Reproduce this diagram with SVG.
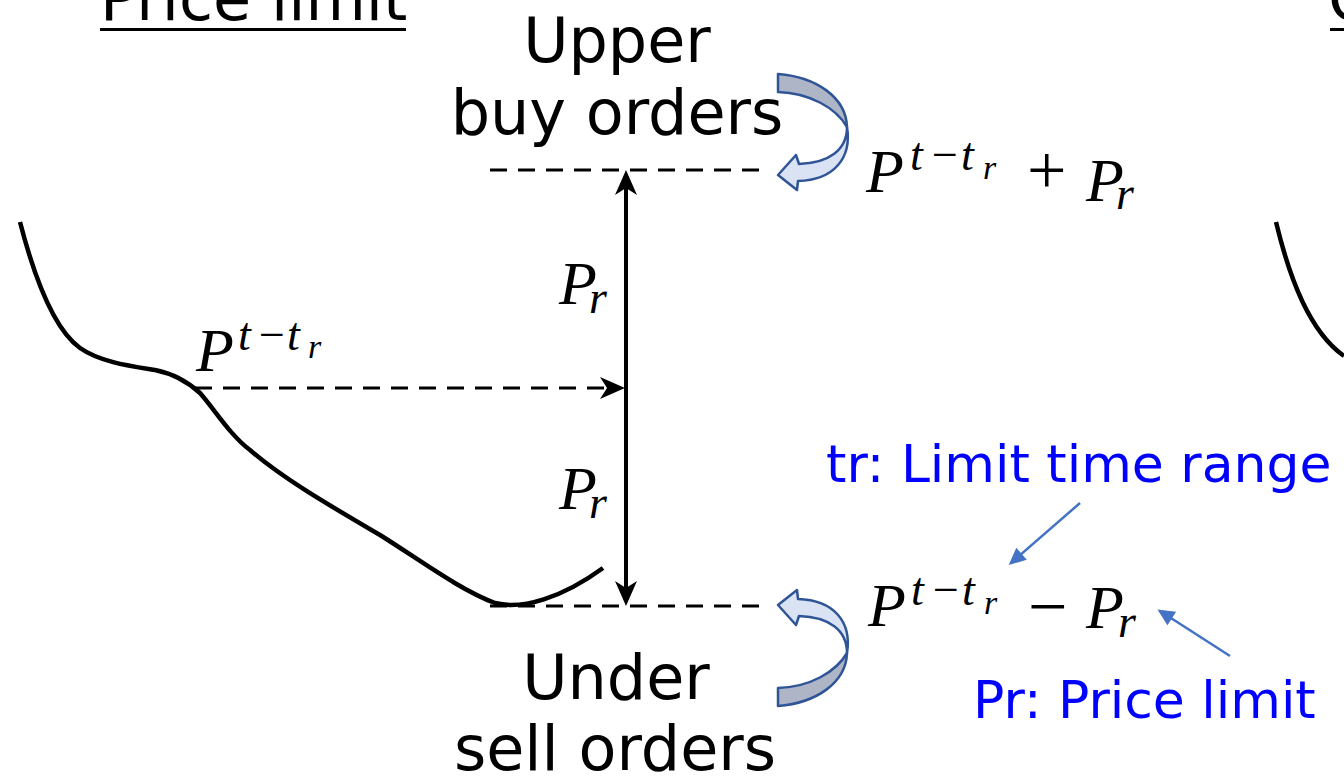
<svg xmlns="http://www.w3.org/2000/svg" width="1344" height="779" viewBox="0 0 1344 779">
<style>
.lbl{font-family:"DejaVu Sans","Liberation Sans",sans-serif;font-size:62px;fill:#000}
.blue{font-family:"DejaVu Sans","Liberation Sans",sans-serif;font-size:52px;fill:#0000ff}
.m{font-family:"Liberation Serif","DejaVu Serif",serif;font-style:italic;fill:#000;font-size:62px}
.up{font-style:normal}
.sup{font-size:46px}
.ssub{font-size:34px}
.dash{stroke:#000;stroke-width:3;stroke-dasharray:17 11;fill:none}
.curve{stroke:#000;stroke-width:4.5;fill:none;stroke-linecap:butt}
.bl{stroke:#4472c4;stroke-width:2.5;fill:none}
.ul{stroke:#000;stroke-width:3}
.dark{fill:#adb5c7;stroke:#2f5597;stroke-width:2.5;stroke-linejoin:round}
.light{fill:#dae3f3;stroke:#2f5597;stroke-width:2.5;stroke-linejoin:round}
</style>
<defs>
<marker id="ah" viewBox="-22 -12 30 24" refX="0" refY="0" markerWidth="30" markerHeight="24" markerUnits="userSpaceOnUse" orient="auto-start-reverse">
<path d="M6,0 L-19,-11 L-12,0 L-19,11 Z" fill="#000"/>
</marker>
<marker id="bh" viewBox="-16 -9 20 18" refX="0" refY="0" markerWidth="20" markerHeight="18" markerUnits="userSpaceOnUse" orient="auto">
<path d="M3,0 L-14,-8 L-14,8 Z" fill="#4472c4"/>
</marker>
<g id="curvedArrow">
<path class="dark" d="M778,74 C816,77 846,97 847,127 C836,108 810,93 778,92 Z"/>
<path class="light" d="M847,127 C847,150 829,163 799,164 L796,155 L778,175 L797,190 L798,181 C834,180 852,158 847,127 Z"/>
</g>
</defs>

<g id="titles">
<text class="lbl" x="100" y="20">Price limit</text>
<line class="ul" x1="100" y1="29.5" x2="406" y2="29.5"/>
<text class="lbl" x="1328" y="20">C</text>
<line class="ul" x1="1330" y1="29.5" x2="1344" y2="29.5"/>
</g>

<g id="price-curves">
<path class="curve" d="M20,222 C35,280 55,330 80,348 C100,362 130,366 155,370 C175,374 188,382 200,393 C215,410 230,435 250,450 C280,476 320,500 380,535 C420,560 460,590 495,603 C522,610 562,598 603,568"/>
<path class="curve" d="M1276,222 C1290,280 1310,332 1344,356"/>
</g>

<g id="connectors">
<line class="dash" x1="490" y1="170" x2="760" y2="170"/>
<line class="dash" x1="490" y1="606" x2="766" y2="606"/>
<line class="dash" x1="195" y1="388" x2="619" y2="388" marker-end="url(#ah)"/>
<line x1="626" y1="600" x2="626" y2="176" stroke="#000" stroke-width="4" marker-start="url(#ah)" marker-end="url(#ah)"/>
<line class="bl" x1="1080" y1="503" x2="1011" y2="563" marker-end="url(#bh)"/>
<line class="bl" x1="1230" y1="656" x2="1160" y2="611" marker-end="url(#bh)"/>
</g>

<g id="upper-arrow">
<use href="#curvedArrow"/>
</g>
<g id="under-arrow">
<use href="#curvedArrow" transform="matrix(1,0,0,-1,0,780)"/>
</g>

<g id="upper-label">
<text class="lbl" x="617" y="62" text-anchor="middle">Upper</text>
<text class="lbl" x="617" y="134" text-anchor="middle">buy orders</text>
</g>
<g id="under-label">
<text class="lbl" x="616" y="699" text-anchor="middle">Under</text>
<text class="lbl" x="615" y="770" text-anchor="middle">sell orders</text>
</g>

<g id="upper-price">
<text class="m"><tspan x="866" y="192">P</tspan><tspan class="sup" x="910" y="170">t</tspan><tspan class="sup up" x="932" y="170">−</tspan><tspan class="sup" x="961" y="170">t</tspan><tspan class="ssub" x="983" y="179">r</tspan><tspan class="up" x="1027" y="194" font-size="70">+</tspan><tspan x="1086" y="201">P</tspan><tspan class="sup" x="1116" y="209">r</tspan></text>
</g>

<g id="lower-price">
<text class="m"><tspan x="868" y="626">P</tspan><tspan class="sup" x="911" y="605">t</tspan><tspan class="sup up" x="933" y="605">−</tspan><tspan class="sup" x="962" y="605">t</tspan><tspan class="ssub" x="984" y="614">r</tspan><tspan class="up" x="1028" y="630" font-size="70">−</tspan><tspan x="1086" y="628">P</tspan><tspan class="sup" x="1118" y="637">r</tspan></text>
</g>

<g id="past-price">
<text class="m"><tspan x="196" y="371">P</tspan><tspan class="sup" x="238" y="350">t</tspan><tspan class="sup up" x="259" y="350">−</tspan><tspan class="sup" x="287" y="350">t</tspan><tspan class="ssub" x="308" y="358">r</tspan></text>
</g>

<g id="pr-labels">
<text class="m"><tspan x="559" y="304">P</tspan><tspan class="sup" x="589" y="313">r</tspan></text>
<text class="m"><tspan x="559" y="509">P</tspan><tspan class="sup" x="589" y="518">r</tspan></text>
</g>

<g id="legend">
<text class="blue" x="826" y="482">tr: Limit time range</text>
<text class="blue" x="973" y="718">Pr: Price limit</text>
</g>
</svg>
